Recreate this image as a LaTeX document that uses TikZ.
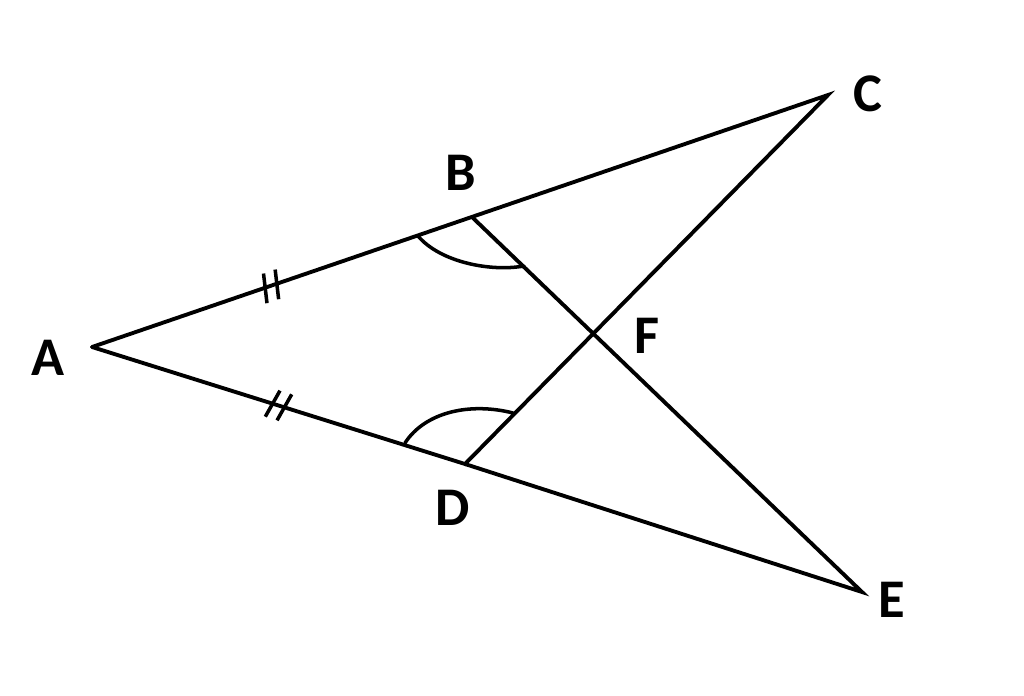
\documentclass[tikz,border=0pt]{standalone}
\usepackage{fontspec}
\setmainfont{Carlito}
\usetikzlibrary{calc}
\tikzset{
  seg/.style={line width=2.2pt, line cap=round},
  lbl/.style={font=\bfseries\fontsize{31}{31}\selectfont, inner sep=0pt},
  tick/.style={line width=2pt},
}
\begin{document}
\begin{tikzpicture}[x=0.02cm, y=-0.02cm]
  \useasboundingbox (0,0) rectangle (1024,696);
  \coordinate (A) at (92,347);
  \coordinate (B) at (473,218);
  \coordinate (C) at (828,95);
  \coordinate (D) at (465,464);
  \coordinate (E) at (862,592);
  \coordinate (F) at (595,333);

  \draw[seg] (A) -- (C) -- (D) -- (A);
  \draw[seg] (B) -- (E) -- (D);

  % equal marks
  \foreach \q/\r in {B/0.47, D/0.5} {
    \coordinate (m) at ($(A)!\r!(\q)$);
    \foreach \s in {-3.5pt,3.5pt} {
      \coordinate (t) at ($(m)!\s!(\q)$);
      \draw[tick] ($(t)!8.5pt!78:(\q)$) -- ($(t)!-8.5pt!78:(\q)$);
    }
  }

  % angles
  \draw[seg, line width=2pt] (418,236) .. controls (440,262) and (490,272) .. (524,266);
  \draw[seg, line width=2pt] (405,443) .. controls (425,412) and (470,402) .. (513,413);

  \node[lbl] (lA) at (48,358) {A};
  \node[lbl] (lB) at (461,173) {B};
  \node[lbl] (lC) at (868,94) {C};
  \node[lbl] (lD) at (453,508) {D};
  \node[lbl] (lE) at (892,600) {E};
  \node[lbl] (lF) at (647,336) {F};
\end{tikzpicture}
\end{document}
